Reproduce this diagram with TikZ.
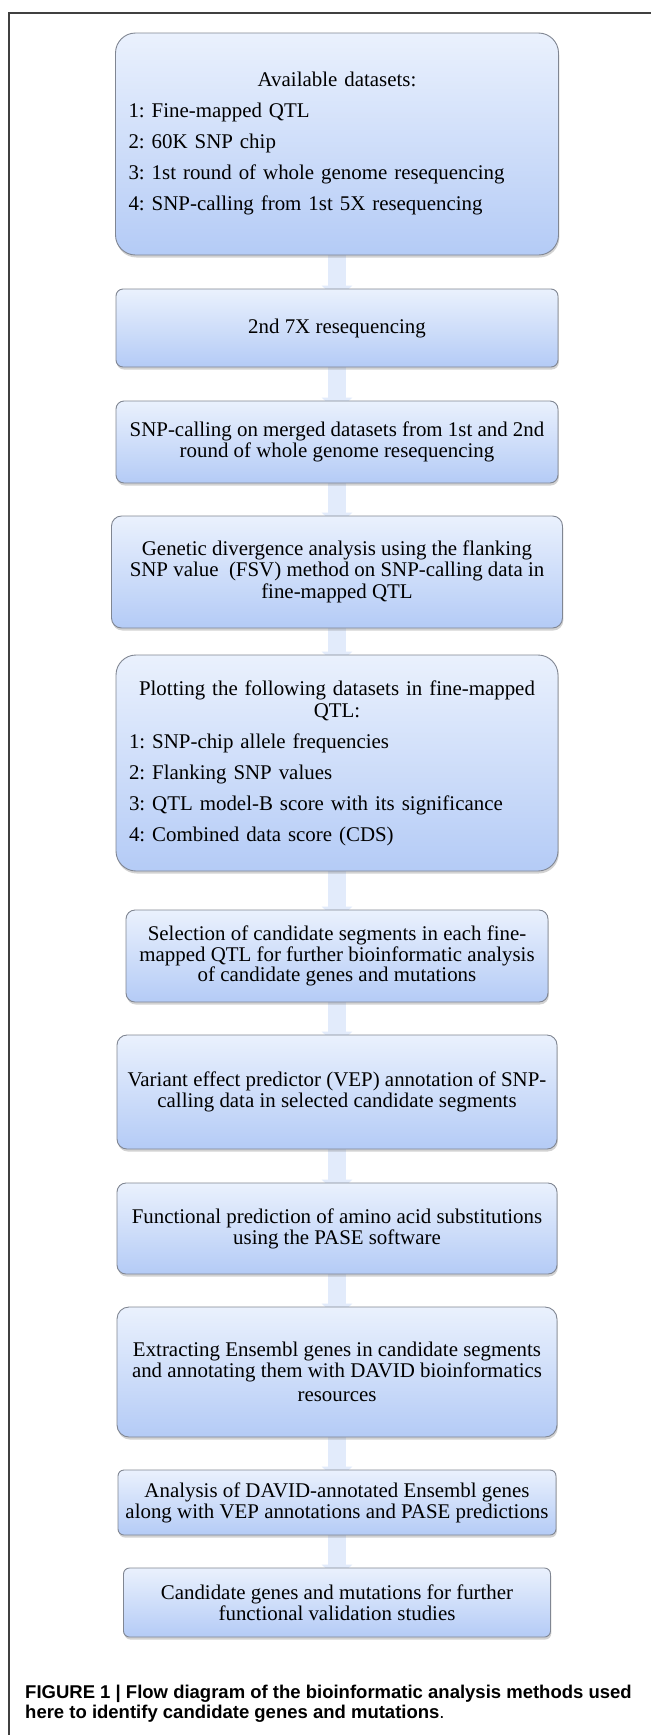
\documentclass[tikz,border=0pt]{standalone}
\usepackage{fontspec}
\usepackage{tikz}
\usetikzlibrary{arrows.meta,shadows,backgrounds}

\newfontfamily\boxfont{Liberation Serif}
\newfontfamily\capfont{Liberation Sans}
\frenchspacing

\definecolor{boxtop}{RGB}{234,241,253}
\definecolor{boxbot}{RGB}{180,203,246}
\definecolor{boxline}{RGB}{128,134,146}
\definecolor{arrowfill}{RGB}{226,235,251}

\begin{document}
\begin{tikzpicture}[x=1pt,y=-1pt]

\tikzset{
    boxlook/.style = {draw=boxline, line width=0.9pt, top color=boxtop, bottom color=boxbot,
        inner sep=0pt, align=center, font=\boxfont\fontsize{20.9}{20.8}\selectfont,
        drop shadow={shadow xshift=0.8pt, shadow yshift=-2.5pt, opacity=0.35}},
    flowbox/.style n args = {3}{boxlook, minimum width=#1pt, minimum height=#2pt, rounded corners=#3pt},
    listbox/.style = {align=left, font=\boxfont\fontsize{20.9}{31}\selectfont},
    flowarrow/.style = {draw=arrowfill, line width=18pt, -{Triangle[width=30pt,length=14pt]}, shorten >=-11pt}
}

\useasboundingbox (0,0) rectangle (651,1735);

% frame
\draw[line width=1.3pt, black!75] (9,1735) -- (9,13) -- (651,13);

\node[flowbox={443}{222}{20}, listbox, text width=417pt] (avail) at (337,144)
    {\noindent\makebox[\hsize]{Available datasets:}\\
     1: Fine-mapped QTL\\
     2: 60K SNP chip\\
     3: 1st round of whole genome resequencing\\
     4: SNP-calling from 1st 5X resequencing};
\node[flowbox={442}{78}{7}] (reseq) at (337,328) {2nd 7X resequencing};
\node[flowbox={442}{82}{8}] (merge) at (337,442)
    {SNP-calling on merged datasets from 1st and 2nd\\round of whole genome resequencing};
\node[flowbox={451}{112}{10}] (diverg) at (337,572)
    {Genetic divergence analysis using the flanking\\SNP value\ \ (FSV) method on SNP-calling data in\\[2pt]fine-mapped QTL};
\node[flowbox={442}{216}{20}, listbox, text width=416pt] (plot) at (337,763)
    {\noindent\makebox[\hsize]{Plotting the following datasets in fine-mapped}\\[-9pt]
     \makebox[\hsize]{QTL:}\\
     1: SNP-chip allele frequencies\\
     2: Flanking SNP values\\
     3: QTL model-B score with its significance\\
     4: Combined data score (CDS)};
\node[flowbox={422}{92}{9}] (select) at (337,956)
    {Selection of candidate segments in each fine-\\mapped QTL for further bioinformatic analysis\\of candidate genes and mutations};
\node[flowbox={440}{114}{10}] (vep) at (337,1092)
    {Variant effect predictor (VEP) annotation of SNP-\\calling data in selected candidate segments};
\node[flowbox={440}{91}{9}] (pase) at (337,1228.5)
    {Functional prediction of amino acid substitutions\\using the PASE software};
\node[flowbox={440}{130}{12}] (ensembl) at (337,1372)
    {Extracting Ensembl genes in candidate segments\\and annotating them with DAVID bioinformatics\\[3pt]resources};
\node[flowbox={438}{65}{6}] (david) at (337,1502.5)
    {Analysis of DAVID-annotated Ensembl genes\\along with VEP annotations and PASE predictions};
\node[flowbox={427}{69}{6}] (cand) at (337,1602.5)
    {Candidate genes and mutations for further\\functional validation studies};

\begin{pgfonlayer}{background}
\fill[white] (0,0) rectangle (651,1735);
\foreach \a/\b in {avail/reseq, reseq/merge, merge/diverg, diverg/plot, plot/select,
                   select/vep, vep/pase, pase/ensembl, ensembl/david, david/cand}
    \draw[flowarrow] (\a.south) -- (\b.north);
\end{pgfonlayer}

% caption
\node[anchor=north west, inner sep=0pt, align=left,
      font=\capfont\bfseries\fontsize{18.5}{19.5}\selectfont] (caption) at (25,1685)
    {FIGURE 1 | Flow diagram of the bioinformatic analysis methods used\\
     here to identify candidate genes and mutations{\mdseries .}};

\end{tikzpicture}
\end{document}
